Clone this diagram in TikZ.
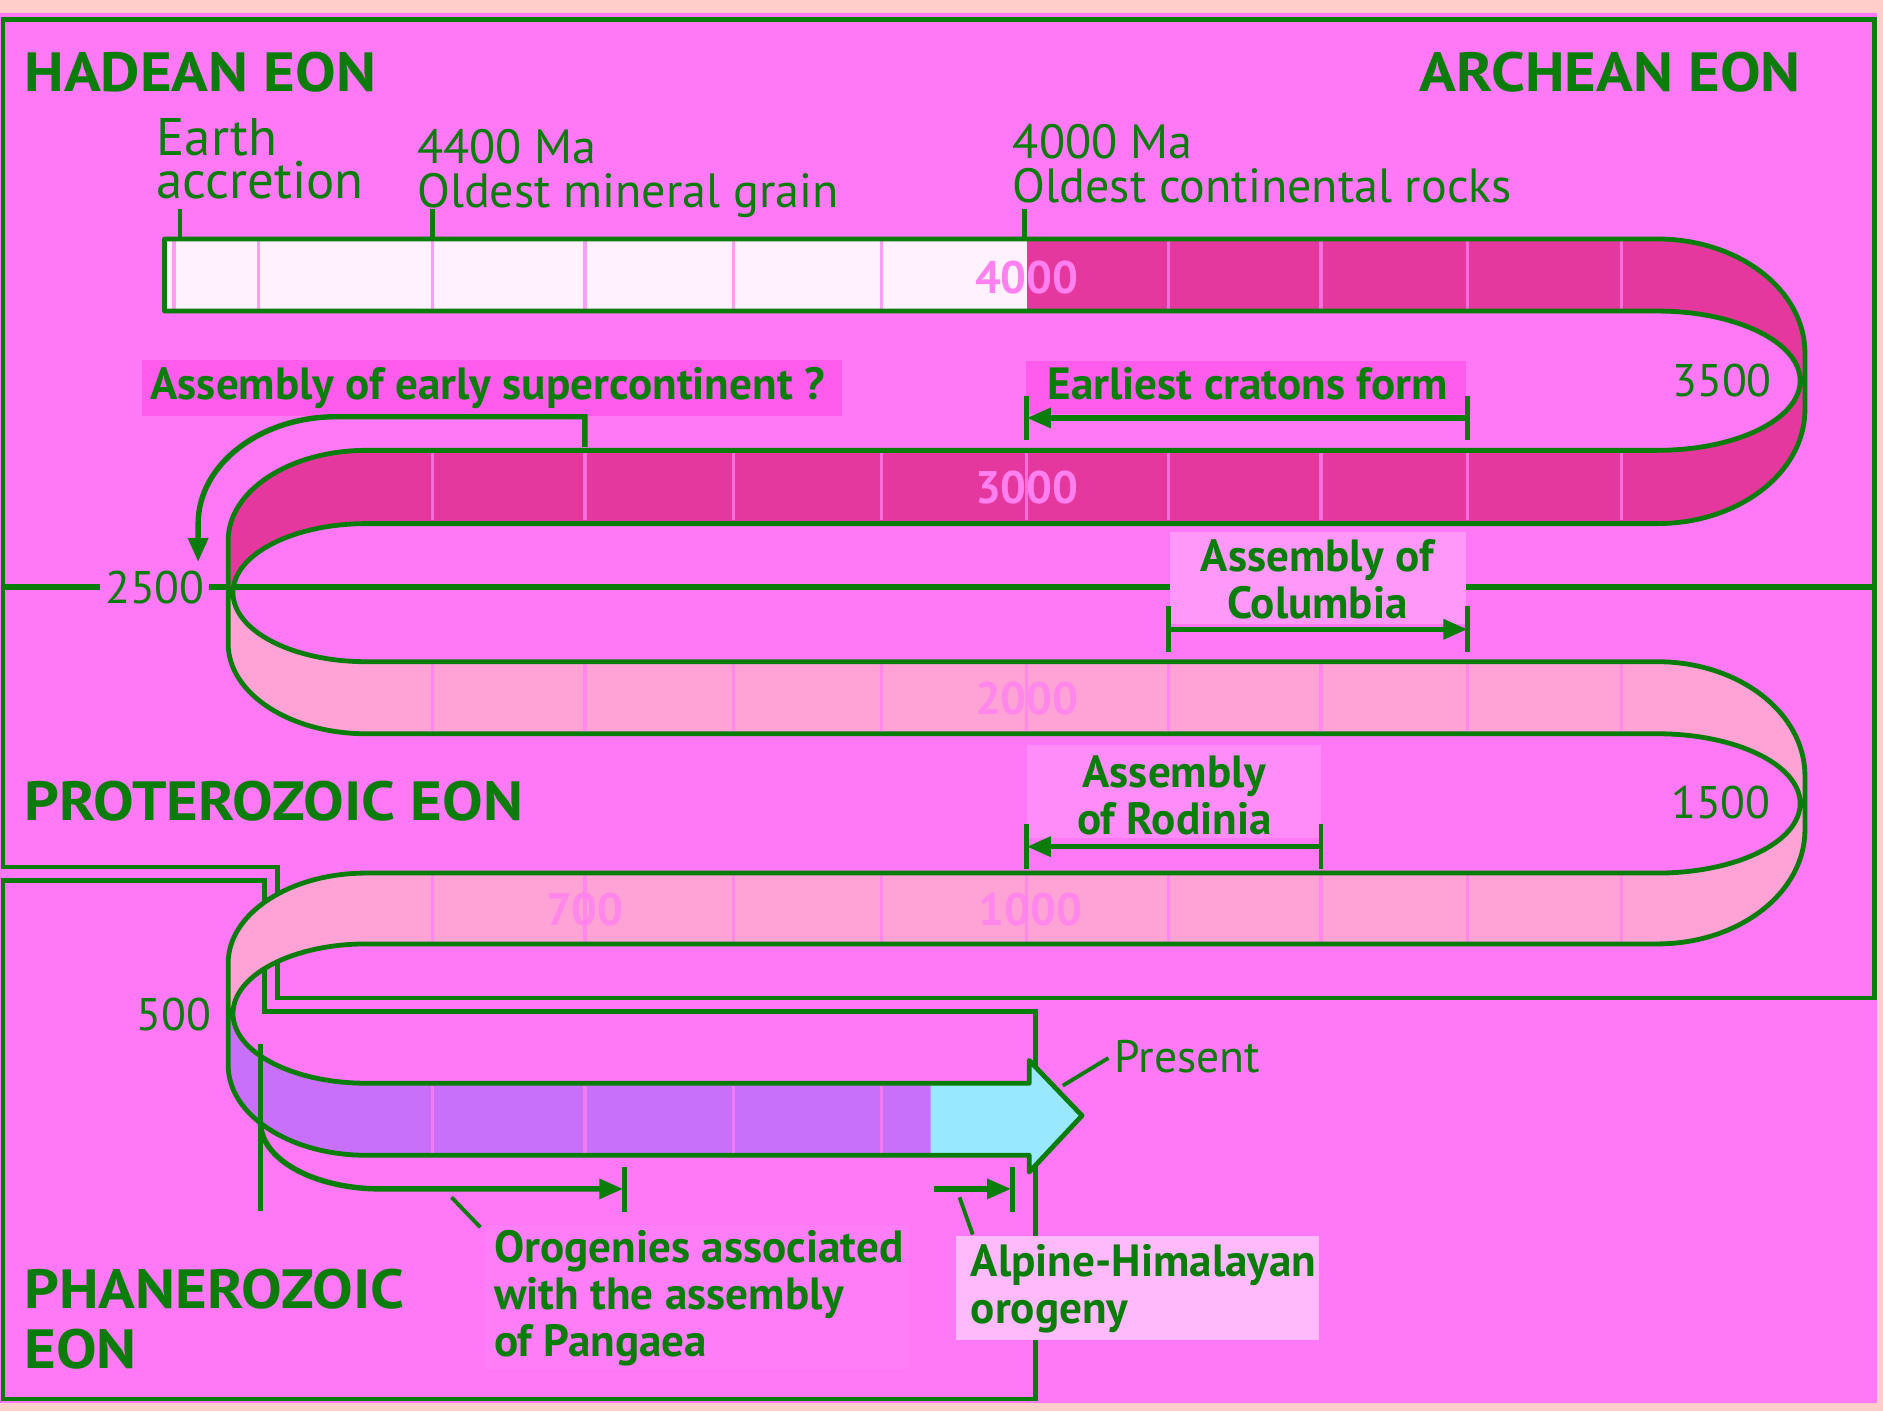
\documentclass[tikz,border=0pt]{standalone}
\usepackage{fontspec}
\setmainfont{PT Sans}
\newfontfamily\eonfont[FakeStretch=1.1]{PT Sans}
\usetikzlibrary{arrows.meta}
\definecolor{bgm}{RGB}{255,120,246}
\definecolor{salmon}{RGB}{255,206,202}
\definecolor{grn}{RGB}{10,124,10}
\definecolor{darkrib}{RGB}{229,56,158}
\definecolor{lightrib}{RGB}{255,162,214}
\definecolor{hadrib}{RGB}{255,242,254}
\definecolor{phanrib}{RGB}{200,112,250}
\definecolor{presrib}{RGB}{152,232,255}
\definecolor{boxdeep}{RGB}{255,92,238}
\definecolor{boxlight}{RGB}{255,152,249}
\definecolor{boxrod}{RGB}{255,140,248}
\definecolor{boxfaint}{RGB}{255,126,248}
\definecolor{boxpale}{RGB}{255,186,252}
\definecolor{numc}{RGB}{255,128,240}
\begin{document}
\begin{tikzpicture}[x=0.5pt,y=-0.5pt,
  frame/.style={draw=grn,line width=2pt},
  ribline/.style={draw=grn,line width=2pt,line join=round},
  brk/.style={draw=grn,line width=2.25pt},
  endtick/.style={draw=grn,line width=1.9pt},
  leader/.style={draw=grn,line width=1.6pt},
  tick/.style={draw=numc,line width=1.4pt,opacity=0.75},
  tip/.style={-{Triangle[length=10pt,width=8pt]}},
  eon/.style={inner sep=0pt,text=grn,align=left,font=\eonfont\fontsize{23}{25}\selectfont\bfseries},
  regbig/.style={inner sep=0pt,text=grn,align=left,font=\fontsize{22}{18}\selectfont},
  reg/.style={inner sep=0pt,text=grn,align=left,font=\fontsize{20}{18.5}\selectfont},
  bld/.style={inner sep=0pt,text=grn,font=\fontsize{18.8}{19.5}\selectfont\bfseries},
  num/.style={inner sep=0pt,text=grn,font=\fontsize{19}{20}\selectfont},
  rnum/.style={inner sep=0pt,text=numc,font=\fontsize{19}{20}\selectfont\bfseries},
]
\useasboundingbox (0,0) rectangle (1568,1175);
% background
\fill[salmon] (0,0) rectangle (1568,1175);
\fill[bgm] (0,11) rectangle (1563,1168);

% eon frames
\draw[frame] (2.5,16) -- (1561,16) -- (1561,831) -- (231,831) -- (231,722) -- (2.5,722) -- cycle;
\draw[frame] (2.5,733) -- (220,733) -- (220,842) -- (862,842) -- (862,1165) -- (2.5,1165) -- cycle;
\draw[draw=grn,line width=2.3pt] (2.5,489) -- (1561,489);

% ribbon fills
\fill[hadrib] (137,199) rectangle (855,259);
\fill[darkrib] (855,199) rectangle (1381,259);
\fill[darkrib] (1380,199) arc[start angle=270,end angle=360,x radius=123,y radius=95] -- (1503,341) arc[start angle=0,end angle=90,x radius=123,y radius=95] -- (1380,375) arc[start angle=90,end angle=-90,x radius=119,y radius=58] -- cycle;
\fill[darkrib] (304,375) rectangle (1381,436);
\fill[darkrib] (305,375) arc[start angle=270,end angle=180,x radius=115,y radius=75] -- (190,493.5) -- (194,493.5) arc[start angle=180,end angle=270,x radius=111,y radius=57.5] -- cycle;
\fill[lightrib] (190,493.5) -- (190,536) arc[start angle=180,end angle=90,x radius=115,y radius=75] -- (305,551) arc[start angle=90,end angle=180,x radius=111,y radius=57.5] -- cycle;
\fill[lightrib] (304,551) rectangle (1381,611);
\fill[lightrib] (1380,551) arc[start angle=270,end angle=360,x radius=123,y radius=95] -- (1503,691) arc[start angle=0,end angle=90,x radius=123,y radius=95] -- (1380,727) arc[start angle=90,end angle=-90,x radius=119,y radius=58] -- cycle;
\fill[lightrib] (304,727) rectangle (1381,786);
\fill[lightrib] (305,727) arc[start angle=270,end angle=180,x radius=115,y radius=75] -- (190,844) -- (194,844) arc[start angle=180,end angle=270,x radius=111,y radius=58] -- cycle;
\fill[phanrib] (190,844) -- (190,887) arc[start angle=180,end angle=90,x radius=115,y radius=75] -- (305,902) arc[start angle=90,end angle=180,x radius=111,y radius=58] -- cycle;
\fill[phanrib] (304,902) rectangle (775,962);
\fill[presrib] (775,902) -- (857,902) -- (857,883) -- (901,929) -- (857,976) -- (857,962) -- (775,962) -- cycle;

% ribbon ticks
\foreach \x in {145,215,360,487,611,734,973,1100,1222,1350} \draw[tick] (\x,201) -- (\x,257);
\foreach \y in {375,551,727} {\foreach \x in {360,487,611,734,855,973,1100,1222,1350} \draw[tick] (\x,\y+2) -- (\x,\y+58);}
\foreach \x in {360,487,611,734} \draw[tick] (\x,904) -- (\x,960);

% ribbon numbers
\node[rnum] (n4000) at (855,231) {4000};
\node[rnum] (n3000) at (855,406) {3000};
\node[rnum,opacity=0.8] (n2000) at (855,582) {2000};
\node[rnum,opacity=0.8] (n1000) at (858,757) {1000};
\node[rnum,opacity=0.8] (n700) at (487,757) {700};

% ribbon outline
\draw[ribline] (137,199) -- (1380,199) arc[start angle=270,end angle=360,x radius=123,y radius=95] -- (1503,341) arc[start angle=0,end angle=90,x radius=123,y radius=95] -- (305,436) arc[start angle=270,end angle=90,x radius=111,y radius=57.5] -- (1380,551) arc[start angle=270,end angle=360,x radius=123,y radius=95] -- (1503,691) arc[start angle=0,end angle=90,x radius=123,y radius=95] -- (305,786) arc[start angle=270,end angle=90,x radius=111,y radius=58] -- (857,902) -- (857,883) -- (901,929) -- (857,976) -- (857,962) -- (305,962) arc[start angle=90,end angle=180,x radius=115,y radius=75] -- (190,802) arc[start angle=180,end angle=270,x radius=115,y radius=75] -- (1380,727) arc[start angle=90,end angle=-90,x radius=119,y radius=58] -- (305,611) arc[start angle=90,end angle=180,x radius=115,y radius=75] -- (190,450) arc[start angle=180,end angle=270,x radius=115,y radius=75] -- (1380,375) arc[start angle=90,end angle=-90,x radius=119,y radius=58] -- (137,259) -- cycle;

% label boxes
\fill[boxdeep] (118,300) rectangle (701,346);
\fill[boxdeep] (854,301) rectangle (1221,345);
\fill[boxlight] (974,443) rectangle (1221,520);
\fill[boxrod] (855,620) rectangle (1100,698);
\fill[boxfaint] (405,1020) rectangle (757,1140);
\fill[boxpale] (796,1029) rectangle (1098,1116);

% eon titles
\node[eon,anchor=base west] (hadean) at (20,76) {HADEAN EON};
\node[eon,anchor=base east] (archean) at (1500,76) {ARCHEAN EON};
\node[eon,anchor=base west] (protero) at (20,683) {PROTEROZOIC EON};
\node[eon,anchor=north west] (phanero) at (20,1056) {PHANEROZOIC\\EON};

% top event labels
\node[regbig,anchor=north west] (earth) at (130,98) {Earth\\accretion};
\node[reg,anchor=north west] (g4400) at (347,107) {4400 Ma\\Oldest mineral grain};
\node[reg,anchor=north west] (g4000) at (843,103) {4000 Ma\\Oldest continental rocks};
\coordinate (eaT) at (150,174); \coordinate (eaB) at (150,199);
\coordinate (mgT) at (360,174); \coordinate (mgB) at (360,199);
\coordinate (crT) at (853,174); \coordinate (crB) at (853,199);
\draw[endtick] (eaB) -- (eaT);
\draw[endtick] (mgB) -- (mgT);
\draw[endtick] (crB) -- (crT);

% boundary numbers
\node[num] (l3500) at (1434,317) {3500};
\node[num,fill=bgm,inner xsep=2pt] (l2500) at (129,489) {2500};
\node[num] (l1500) at (1433,668) {1500};
\node[num] (l500) at (145,845) {500};

% early supercontinent
\node[bld,anchor=base west] (super) at (125,333) {Assembly of early supercontinent ?};
\coordinate (suA) at (487,372); \coordinate (suB) at (487,347); \coordinate (suC) at (280,347); \coordinate (suD) at (165,468);
\draw[brk,tip] (suA) -- (suB) -- (suC) arc[start angle=270,end angle=180,x radius=115,y radius=89] -- (suD);

% earliest cratons
\node[bld,anchor=base west] (cratons) at (872,333) {Earliest cratons form};
\coordinate (ecR) at (1222,348); \coordinate (ecL) at (855,348);
\draw[endtick] (1222,330) -- (1222,366);
\draw[endtick] (855,330) -- (855,366);
\draw[brk,tip] (ecR) -- (ecL);

% Columbia
\node[bld,anchor=north,align=center] (columbia) at (1097,449) {Assembly of\\Columbia};
\coordinate (coL) at (973,524); \coordinate (coR) at (1222,524);
\draw[endtick] (973,505) -- (973,543);
\draw[endtick] (1222,505) -- (1222,543);
\draw[brk,tip] (coL) -- (coR);

% Rodinia
\node[bld,anchor=north,align=center] (rodinia) at (978,629) {Assembly\\of Rodinia};
\coordinate (roR) at (1100,705); \coordinate (roL) at (855,705);
\draw[endtick] (1100,686) -- (1100,724);
\draw[endtick] (855,686) -- (855,724);
\draw[brk,tip] (roR) -- (roL);

% Phanerozoic start and orogenies
\draw[frame] (217,869) -- (217,1008);
\coordinate (orA) at (217,935); \coordinate (orB) at (519,990);
\draw[brk,tip] (orA) arc[start angle=180,end angle=90,x radius=100,y radius=55] -- (orB);
\draw[endtick] (520,972) -- (520,1009);
\node[bld,anchor=north west,align=left] (orog) at (411,1024) {Orogenies associated\\with the assembly\\of Pangaea};
\coordinate (olA) at (376,997); \coordinate (olB) at (400,1022);
\draw[leader] (olA) -- (olB);

% Alpine-Himalayan
\coordinate (alA) at (778,990); \coordinate (alB) at (842,990);
\draw[brk,tip] (alA) -- (alB);
\draw[endtick] (843,972) -- (843,1009);
\node[bld,anchor=north west,align=left] (alpine) at (808,1036) {Alpine-Himalayan\\orogeny};
\coordinate (aaA) at (799,997); \coordinate (aaB) at (810,1028);
\draw[leader] (aaA) -- (aaB);

% Present
\node[num,anchor=base west] (present) at (928,893) {Present};
\coordinate (prA) at (885,904); \coordinate (prB) at (923,881);
\draw[leader] (prA) -- (prB);
\end{tikzpicture}
\end{document}
